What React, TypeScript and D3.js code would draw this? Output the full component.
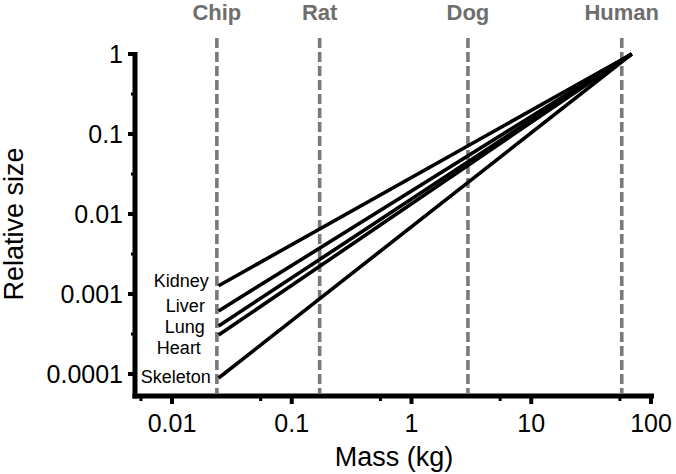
import React from 'react';
import * as d3 from 'd3';

// species masses (kg) for the dashed reference lines
const species = ['Chip', 'Rat', 'Dog', 'Human'];
const speciesMass = [0.0237, 0.171, 2.96, 57];

// organ scaling lines: start at chip mass, converge at human size
const organs = ['Kidney', 'Liver', 'Lung', 'Heart', 'Skeleton'];
const startMass = 0.0245;
const endMass = 69;
const startValue = [0.00127, 0.000613, 0.000398, 0.000307, 0.0000891];
const endValue = [1, 1, 1, 1, 1];
// where the organ labels sit (relative size at baseline) and nudge
const labelValue = [0.00122, 0.000596, 0.000325, 0.000178, 0.0000772];
const labelNudge = [0, -4, -4, -8, 2];

const xTicks = [0.01, 0.1, 1, 10, 100];
const xTickLabels = ['0.01', '0.1', '1', '10', '100'];
const xMinor = [0.0055, 0.055, 0.55, 5.5, 55];
const yTicks = [1, 0.1, 0.01, 0.001, 0.0001];
const yTickLabels = ['1', '0.1', '0.01', '0.001', '0.0001'];
const yMinor = [0.316, 0.0316, 0.00316, 0.000316];

const W = 676;
const H = 474;
const FONT = '"Liberation Sans", Arial, Helvetica, sans-serif';

const App: React.FC = () => {
    const x = d3.scaleLog().domain([0.01, 100]).range([172, 651]);
    const y = d3.scaleLog().domain([0.0001, 1]).range([374, 54]);

    const axisLeft = 135;
    const axisBottom = 396;
    const axisTop = 52;
    const axisRight = 654;

    const line = d3.line<[number, number]>()
        .x(d => x(d[0]))
        .y(d => y(d[1]));

    const grey = '#6e6e6e';

    return (
        <svg width={W} height={H} style={{ position: 'absolute', left: 0, top: 0, background: '#fff' }}
            fontFamily={FONT}>
            {/* species reference lines */}
            {species.map((s, i) => (
                <g key={s}>
                    <line x1={x(speciesMass[i])} x2={x(speciesMass[i])} y1={38} y2={axisBottom - 3}
                        stroke="#7a7a7a" strokeWidth={3.6} strokeDasharray="10,4" />
                    <text x={x(speciesMass[i])} y={20} textAnchor="middle" fontSize={22}
                        fontWeight="bold" fill={grey}>{s}</text>
                </g>
            ))}

            {/* organ lines */}
            {organs.map((o, i) => (
                <path key={o}
                    d={line([[startMass, startValue[i]], [endMass, endValue[i]]]) || ''}
                    fill="none" stroke="#000" strokeWidth={3.6} strokeLinecap="butt" />
            ))}
            {organs.map((o, i) => (
                <text key={o + '-label'} x={x(speciesMass[0]) - 8 + labelNudge[i]} y={y(labelValue[i])}
                    textAnchor="end" fontSize={18} fill="#000">{o}</text>
            ))}

            {/* axes */}
            <line x1={axisLeft} x2={axisLeft} y1={axisTop} y2={axisBottom + 2.5} stroke="#000" strokeWidth={5} />
            <line x1={axisLeft - 2.5} x2={axisRight} y1={axisBottom} y2={axisBottom} stroke="#000" strokeWidth={5} />

            {yTicks.map((t, i) => (
                <g key={'y' + t}>
                    <line x1={axisLeft} x2={axisLeft - 7} y1={y(t)} y2={y(t)} stroke="#000" strokeWidth={4} />
                    <text x={123} y={y(t)} dy="0.36em" textAnchor="end" fontSize={25} fill="#000">{yTickLabels[i]}</text>
                </g>
            ))}
            {yMinor.map(t => (
                <line key={'ym' + t} x1={axisLeft} x2={axisLeft - 4} y1={y(t)} y2={y(t)} stroke="#000" strokeWidth={3} />
            ))}

            {xTicks.map((t, i) => (
                <g key={'x' + t}>
                    <line x1={x(t)} x2={x(t)} y1={axisBottom} y2={axisBottom + 8} stroke="#000" strokeWidth={4} />
                    <text x={x(t)} y={432} textAnchor="middle" fontSize={25} fill="#000">{xTickLabels[i]}</text>
                </g>
            ))}
            {xMinor.map(t => (
                <line key={'xm' + t} x1={x(t)} x2={x(t)} y1={axisBottom} y2={axisBottom + 5} stroke="#000" strokeWidth={3} />
            ))}

            {/* axis titles */}
            <text x={394} y={466} textAnchor="middle" fontSize={27} fill="#000">Mass (kg)</text>
            <text transform={`translate(23, ${224}) rotate(-90)`} textAnchor="middle" fontSize={27} fill="#000">Relative size</text>
        </svg>
    );
};

export default App;
